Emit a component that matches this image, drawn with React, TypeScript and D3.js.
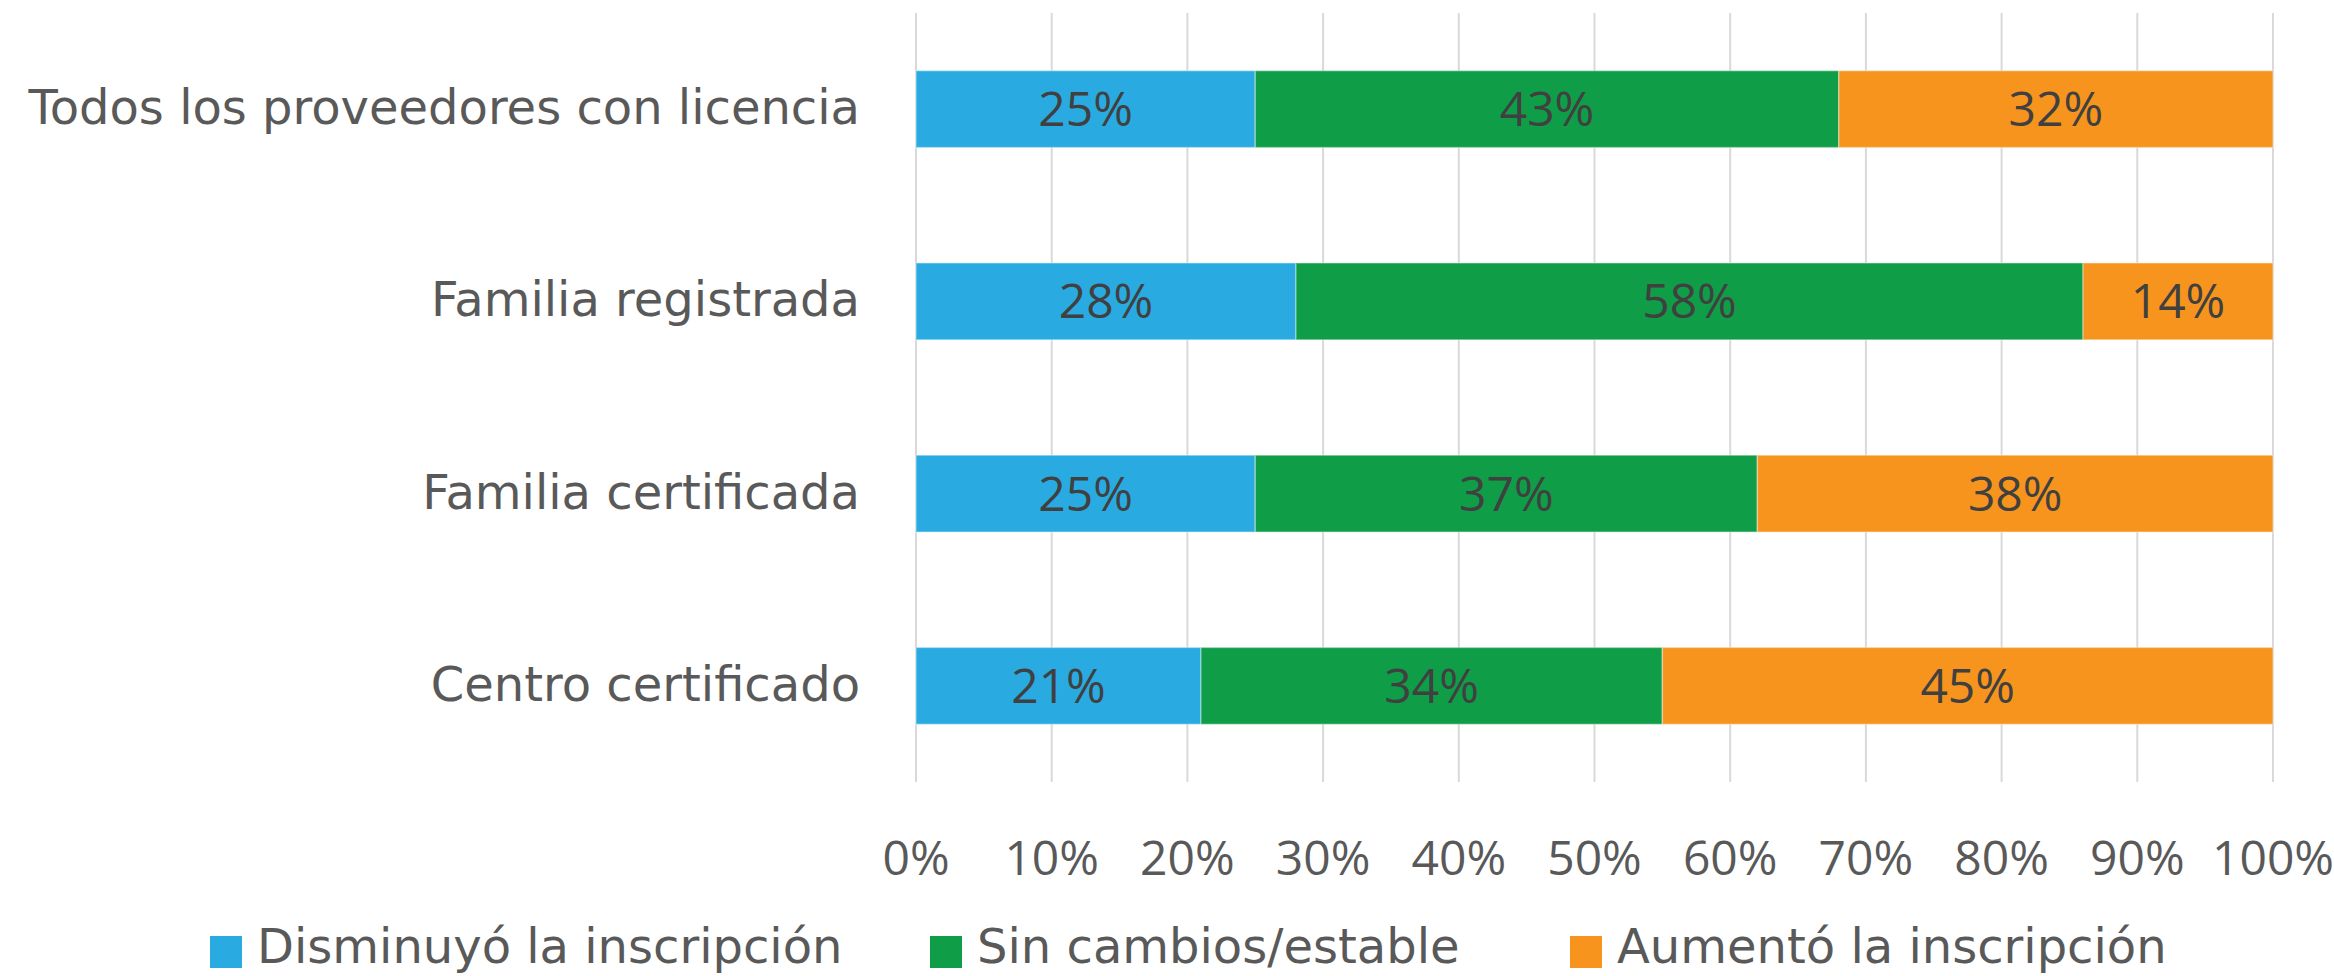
import React from "react";
import * as d3 from "d3";

const categories = [
  "Todos los proveedores con licencia",
  "Familia registrada",
  "Familia certificada",
  "Centro certificado",
];
const seriesNames = ["Disminuyó la inscripción", "Sin cambios/estable", "Aumentó la inscripción"];
const disminuyo = [25, 28, 25, 21];
const sinCambios = [43, 58, 37, 34];
const aumento = [32, 14, 38, 45];
const tickValues = [0, 10, 20, 30, 40, 50, 60, 70, 80, 90, 100];
const colors = ["#29ABE2", "#0F9D48", "#F7941D"];

const W = 2334;
const H = 976;
const FONT = "'Open Sans', 'Noto Sans', sans-serif";
const FONT_WIDE = "'DejaVu Sans', 'Open Sans', sans-serif";

export default function App() {
  const x = d3.scaleLinear().domain([0, 100]).range([916, 2273]);
  const y = d3.scaleBand().domain(categories).range([13, 782]).paddingInner(0.6).paddingOuter(0.3);
  const seriesValues = [disminuyo, sinCambios, aumento];
  const rows = categories.map((c, i) => {
    const vals = seriesValues.map((s) => s[i]);
    let acc = 0;
    return vals.map((v, k) => {
      const seg = { cat: c, k, v, x0: acc, x1: acc + v };
      acc += v;
      return seg;
    });
  });
  const bw = y.bandwidth();
  const legendX = [210, 930, 1570];
  return (
    <div style={{ position: "fixed", left: 0, top: 0 }}>
      <svg width={W} height={H} style={{ display: "block", background: "#fff" }}>
        {tickValues.map((t) => (
          <line key={t} x1={x(t)} x2={x(t)} y1={13} y2={782} stroke="#D9D9D9" strokeWidth={2} />
        ))}
        {rows.map((segs, i) =>
          segs.map((s) => (
            <g key={`${i}-${s.k}`}>
              <rect
                x={x(s.x0)}
                y={y(s.cat)!}
                width={x(s.x1) - x(s.x0)}
                height={bw}
                fill={colors[s.k]}
                stroke="#ffffff"
                strokeOpacity={0.35}
                strokeWidth={1.5}
              />
              <text
                x={(x(s.x0) + x(s.x1)) / 2}
                y={y(s.cat)! + bw / 2 + 17}
                textAnchor="middle"
                fontFamily={FONT}
                fontSize={48}
                fill="#404040"
              >
                {s.v}%
              </text>
            </g>
          ))
        )}
        {categories.map((c) => (
          <text
            key={c}
            x={860}
            y={y(c)! + bw / 2 + 15}
            textAnchor="end"
            fontFamily={FONT_WIDE}
            fontSize={48}
            fill="#595959"
          >
            {c}
          </text>
        ))}
        {tickValues.map((t) => (
          <text
            key={t}
            x={x(t)}
            y={875}
            textAnchor="middle"
            fontFamily={FONT}
            fontSize={48}
            fill="#595959"
          >
            {t}%
          </text>
        ))}
        {seriesNames.map((n, k) => (
          <g key={n}>
            <rect x={legendX[k]} y={936} width={32} height={32} fill={colors[k]} />
            <text x={legendX[k] + 47} y={963} fontFamily={FONT_WIDE} fontSize={48} fill="#595959">
              {n}
            </text>
          </g>
        ))}
      </svg>
    </div>
  );
}
